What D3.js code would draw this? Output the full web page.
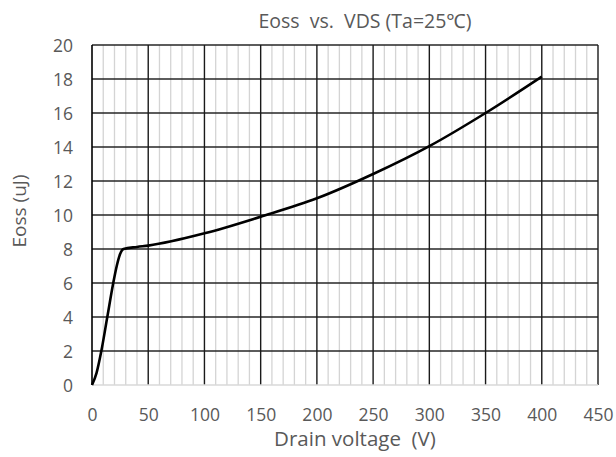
<!DOCTYPE html>
<html>
<head>
<meta charset="utf-8">
<script src="https://cdn.jsdelivr.net/npm/d3@7"></script>
<style>
  html, body { margin: 0; padding: 0; background: #fff; }
  svg text { font-family: "Open Sans", "Noto Sans", sans-serif; fill: #595959; white-space: pre; }
</style>
</head>
<body>
<svg id="chart" width="616" height="457"></svg>
<script>
// Drain voltage (V) and output-capacitance stored energy (uJ)
const vds  = [0, 4, 8.3, 13.6, 18.9, 22, 25, 28, 40, 50, 100, 150, 200, 250, 300, 350, 400];
const eoss = [0, 0.7, 2, 4, 6, 7, 7.7, 8.0, 8.12, 8.2, 8.92, 9.9, 10.98, 12.41, 14.05, 16.0, 18.14];

const xTicks = [0, 50, 100, 150, 200, 250, 300, 350, 400, 450];
const yTicks = [0, 2, 4, 6, 8, 10, 12, 14, 16, 18, 20];
const xMinor = d3.range(0, 451, 10);

const titleText = "Eoss  vs.  VDS (Ta=25\u2103)";
const xTitle = "Drain voltage  (V)";
const yTitle = "Eoss (uJ)";

const svg = d3.select("#chart");
const m = { left: 92, right: 598, top: 45, bottom: 385 };

const x = d3.scaleLinear().domain([0, 450]).range([m.left, m.right]);
const y = d3.scaleLinear().domain([0, 20]).range([m.bottom, m.top]);

// minor vertical grid
svg.append("g")
  .selectAll("line").data(xMinor.filter(v => v % 50 !== 0)).join("line")
  .attr("x1", d => x(d)).attr("x2", d => x(d))
  .attr("y1", m.top).attr("y2", m.bottom)
  .attr("stroke", "#d4d4d4").attr("stroke-width", 1.3);

// major horizontal grid
svg.append("g")
  .selectAll("line").data(yTicks.filter(v => v > 0)).join("line")
  .attr("x1", m.left).attr("x2", m.right)
  .attr("y1", d => y(d)).attr("y2", d => y(d))
  .attr("stroke", "#262626").attr("stroke-width", 1.4);

// major vertical grid
svg.append("g")
  .selectAll("line").data(xTicks.filter(v => v > 0)).join("line")
  .attr("x1", d => x(d)).attr("x2", d => x(d))
  .attr("y1", m.top).attr("y2", m.bottom)
  .attr("stroke", "#1a1a1a").attr("stroke-width", 1.4);

// bottom axis line (light) and left axis line (dark)
svg.append("line")
  .attr("x1", m.left).attr("x2", m.right).attr("y1", y(0)).attr("y2", y(0))
  .attr("stroke", "#d9d9d9").attr("stroke-width", 1.3);
svg.append("line")
  .attr("x1", x(0)).attr("x2", x(0)).attr("y1", m.top).attr("y2", m.bottom)
  .attr("stroke", "#000").attr("stroke-width", 1.6);

// axes (labels only)
const xAxis = svg.append("g")
  .attr("transform", `translate(0,${m.bottom})`)
  .call(d3.axisBottom(x).tickValues(xTicks).tickSize(0).tickPadding(36));
const yAxis = svg.append("g")
  .attr("transform", `translate(${m.left},0)`)
  .call(d3.axisLeft(y).tickValues(yTicks).tickSize(0).tickPadding(19));
[xAxis, yAxis].forEach(g => {
  g.select(".domain").remove();
  g.selectAll("text").attr("font-size", 17.5).attr("fill", "#595959")
    .style("font-family", '"Open Sans", "Noto Sans", sans-serif');
});
xAxis.selectAll("text").attr("dy", 0);
yAxis.selectAll("text").attr("dy", "0.36em");

// curve
const line = d3.line()
  .x((d, i) => x(vds[i]))
  .y(d => y(d))
  .curve(d3.curveMonotoneX);
svg.append("path")
  .attr("d", line(eoss))
  .attr("fill", "none")
  .attr("stroke", "#000")
  .attr("stroke-width", 2.6)
  .attr("stroke-linejoin", "round");

// titles
svg.append("text").attr("x", 365).attr("y", 28)
  .attr("text-anchor", "middle").attr("font-size", 19.5).text(titleText);
svg.append("text").attr("x", 355).attr("y", 446)
  .attr("text-anchor", "middle").attr("font-size", 20.5).text(xTitle);
svg.append("text")
  .attr("transform", `translate(26,${(m.top + m.bottom) / 2 - 4}) rotate(-90)`)
  .attr("text-anchor", "middle").attr("font-size", 19).text(yTitle);
</script>
</body>
</html>
